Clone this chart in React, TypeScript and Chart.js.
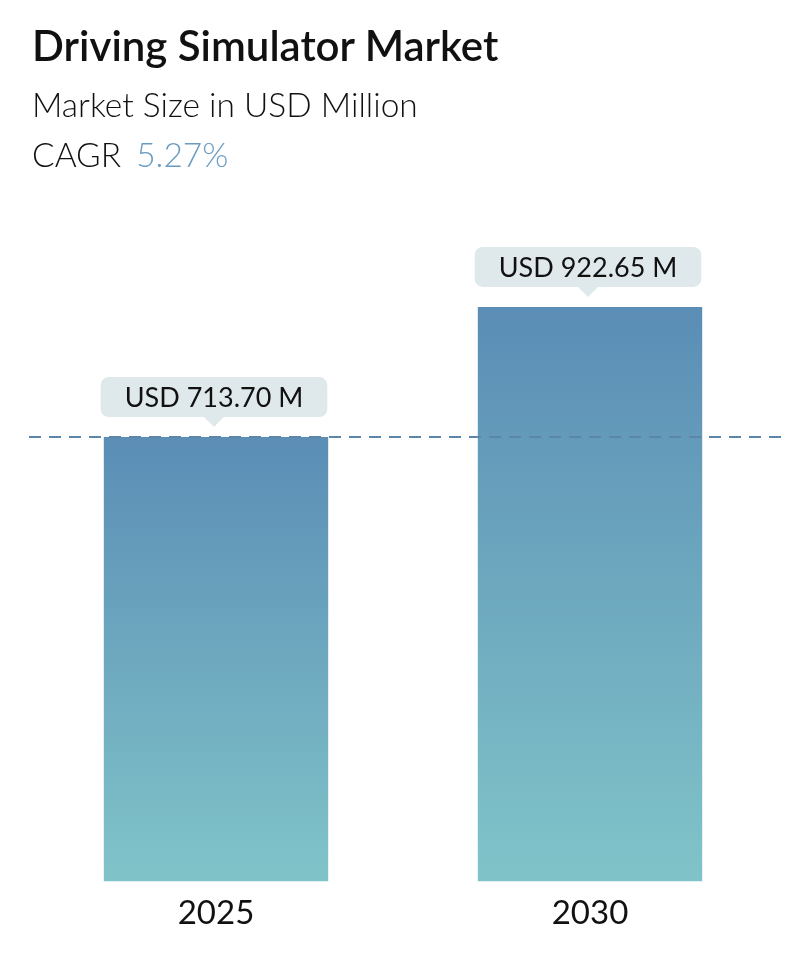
import { useEffect, useRef } from "react";
import { Chart, registerables } from "chart.js";

Chart.register(...registerables);

const years = ["2025", "2030"];
const marketSize = [713.7, 922.65];
const valueLabels = ["USD 713.70 M", "USD 922.65 M"];
const cagrText = "5.27%";

const FONT = "Lato, 'Open Sans', sans-serif";

// callout boxes above bars + dashed reference line at the first bar's value
const calloutPlugin = {
  id: "callouts",
  afterDatasetsDraw(chart: any) {
    const { ctx } = chart;
    const yScale = chart.scales.y;
    const meta = chart.getDatasetMeta(0);

    const refY = yScale.getPixelForValue(marketSize[0]);
    ctx.save();
    ctx.strokeStyle = "#5d87aa";
    ctx.lineWidth = 2;
    ctx.setLineDash([12, 8]);
    ctx.beginPath();
    ctx.moveTo(29, refY);
    ctx.lineTo(chart.width - 11, refY);
    ctx.stroke();
    ctx.restore();

    ctx.save();
    ctx.font = `27px ${FONT}`;
    meta.data.forEach((bar: any, i: number) => {
      const text = valueLabels[i];
      const w = ctx.measureText(text).width + 48;
      const h = 40;
      const cx = bar.x - 2;
      const bottom = bar.y - 20;
      const top = bottom - h;
      const left = cx - w / 2;
      ctx.fillStyle = "#dfe9ec";
      ctx.beginPath();
      ctx.roundRect(left, top, w, h, 8);
      ctx.fill();
      ctx.beginPath();
      ctx.moveTo(cx - 10, bottom);
      ctx.lineTo(cx, bottom + 10);
      ctx.lineTo(cx + 10, bottom);
      ctx.closePath();
      ctx.fill();
      ctx.fillStyle = "#111111";
      ctx.textAlign = "center";
      ctx.textBaseline = "middle";
      ctx.fillText(text, cx, top + h / 2 + 1);
    });
    ctx.restore();
  },
};

export default function App() {
  const canvasRef = useRef<HTMLCanvasElement | null>(null);
  const chartRef = useRef<Chart | null>(null);

  useEffect(() => {
    document.body.style.margin = "0";
    if (!canvasRef.current) return;
    const ctx = canvasRef.current.getContext("2d");
    if (!ctx) return;

    chartRef.current = new Chart(ctx, {
      type: "bar",
      data: {
        labels: years,
        datasets: [
          {
            data: marketSize,
            backgroundColor: (c: any) => {
              const chart = c.chart;
              const area = chart.chartArea;
              if (!area || c.dataIndex === undefined) return "#6da7bf";
              const y = chart.scales.y;
              const top = y.getPixelForValue(marketSize[c.dataIndex]);
              const bottom = y.getPixelForValue(0);
              const g = chart.ctx.createLinearGradient(0, top, 0, bottom);
              g.addColorStop(0, "#5b8db5");
              g.addColorStop(1, "#80c4c9");
              return g;
            },
            borderWidth: 0,
            barPercentage: 0.6,
            categoryPercentage: 1,
          },
        ],
      },
      options: {
        responsive: false,
        animation: false,
        layout: { padding: { left: 29, right: 19, top: 72, bottom: 13 } },
        plugins: {
          legend: { display: false },
          tooltip: { enabled: false },
        },
        scales: {
          x: {
            grid: { display: false, drawTicks: false },
            border: { display: false },
            ticks: {
              color: "#111111",
              padding: 12,
              font: { family: FONT, size: 33 },
            },
          },
          y: {
            display: false,
            min: 0,
            max: 1300,
          },
        },
      },
      plugins: [calloutPlugin],
    });

    return () => {
      if (chartRef.current) {
        chartRef.current.destroy();
        chartRef.current = null;
      }
    };
  }, []);

  return (
    <div
      style={{
        position: "relative",
        width: "796px",
        height: "958px",
        background: "#ffffff",
        fontFamily: FONT,
        color: "#111111",
      }}
    >
      <canvas
        ref={canvasRef}
        width={796}
        height={958}
        style={{ position: "absolute", left: 0, top: 0 }}
      />
      <div
        style={{
          position: "absolute",
          left: "32px",
          top: "21px",
          fontSize: "42px",
          fontWeight: 600,
          lineHeight: "48px",
          whiteSpace: "nowrap",
        }}
      >
        Driving Simulator Market
      </div>
      <div
        style={{
          position: "absolute",
          left: "32px",
          top: "83px",
          fontSize: "33.5px",
          fontWeight: 300,
          lineHeight: "42px",
          whiteSpace: "nowrap",
        }}
      >
        Market Size in USD Million
      </div>
      <div
        style={{
          position: "absolute",
          left: "32px",
          top: "133px",
          fontSize: "33.5px",
          fontWeight: 300,
          lineHeight: "42px",
          whiteSpace: "nowrap",
        }}
      >
        CAGR <span style={{ color: "#6a9cc2", marginLeft: "6px" }}>{cagrText}</span>
      </div>
    </div>
  );
}
